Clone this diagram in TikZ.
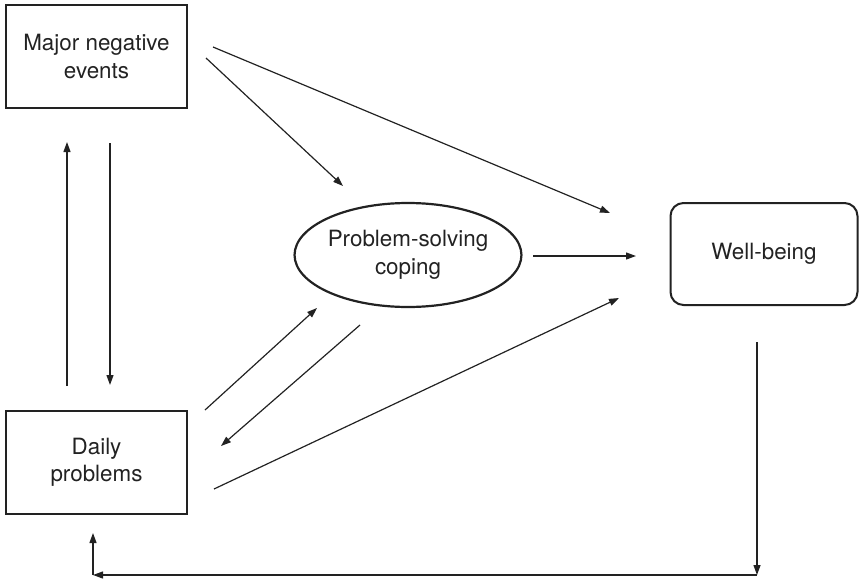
\documentclass[tikz,border=0pt]{standalone}
\usepackage{fontspec}
\setmainfont{TeX Gyre Heros}
\usetikzlibrary{arrows.meta,shapes.geometric}
\definecolor{ink}{HTML}{222222}
\begin{document}
\begin{tikzpicture}[x=1pt,y=-1pt,
  every node/.style={font=\fontsize{22.4}{27.5}\selectfont, text=ink, align=center, inner sep=0pt},
  boxnode/.style={draw=ink, line width=2.2pt, rectangle, minimum width=181pt, minimum height=103pt},
  ovalnode/.style={draw=ink, line width=2.2pt, ellipse, minimum width=219pt, minimum height=104pt},
  roundnode/.style={draw=ink, line width=2pt, rectangle, rounded corners=13pt, minimum width=187pt, minimum height=102pt},
  conn/.style={draw=ink, line width=1.2pt, -{Triangle[length=10pt,width=7pt]}}
]
\useasboundingbox (0,0) rectangle (859,581);
\node[boxnode] (mne) at (96.5,56.5) {Major negative\\events};
\node[boxnode] (dp) at (96.5,462.5) {Daily\\problems};
\node[ovalnode] (psc) at (408,255) {Problem-solving\\coping};
\node[roundnode] (wb) at (764,254) {Well-being};

% connector end points
\coordinate (a1) at (206,58);  \coordinate (a2) at (343,186);
\coordinate (b1) at (213,47);  \coordinate (b2) at (610,213);
\coordinate (c1) at (533,256); \coordinate (c2) at (636,256);
\coordinate (d1) at (205,410); \coordinate (d2) at (317,308);
\coordinate (e1) at (360,325); \coordinate (e2) at (221,446);
\coordinate (f1) at (214,489); \coordinate (f2) at (619,298);
\coordinate (g1) at (67,386);  \coordinate (g2) at (67,142);
\coordinate (h1) at (110,143); \coordinate (h2) at (110,385);
\coordinate (i1) at (757,342); \coordinate (i2) at (757,575);
\coordinate (i3) at (93,575);  \coordinate (i4) at (93,533);

\draw[conn] (a1) -- (a2);
\draw[conn] (b1) -- (b2);
\draw[conn] (c1) -- (c2);
\draw[conn] (d1) -- (d2);
\draw[conn] (e1) -- (e2);
\draw[conn] (f1) -- (f2);
\draw[conn] (g1) -- (g2);
\draw[conn] (h1) -- (h2);
\draw[conn] (i1) -- (i2);
\draw[conn] (i2) -- (i3);
\draw[conn] (i3) -- (i4);
\end{tikzpicture}
\end{document}
